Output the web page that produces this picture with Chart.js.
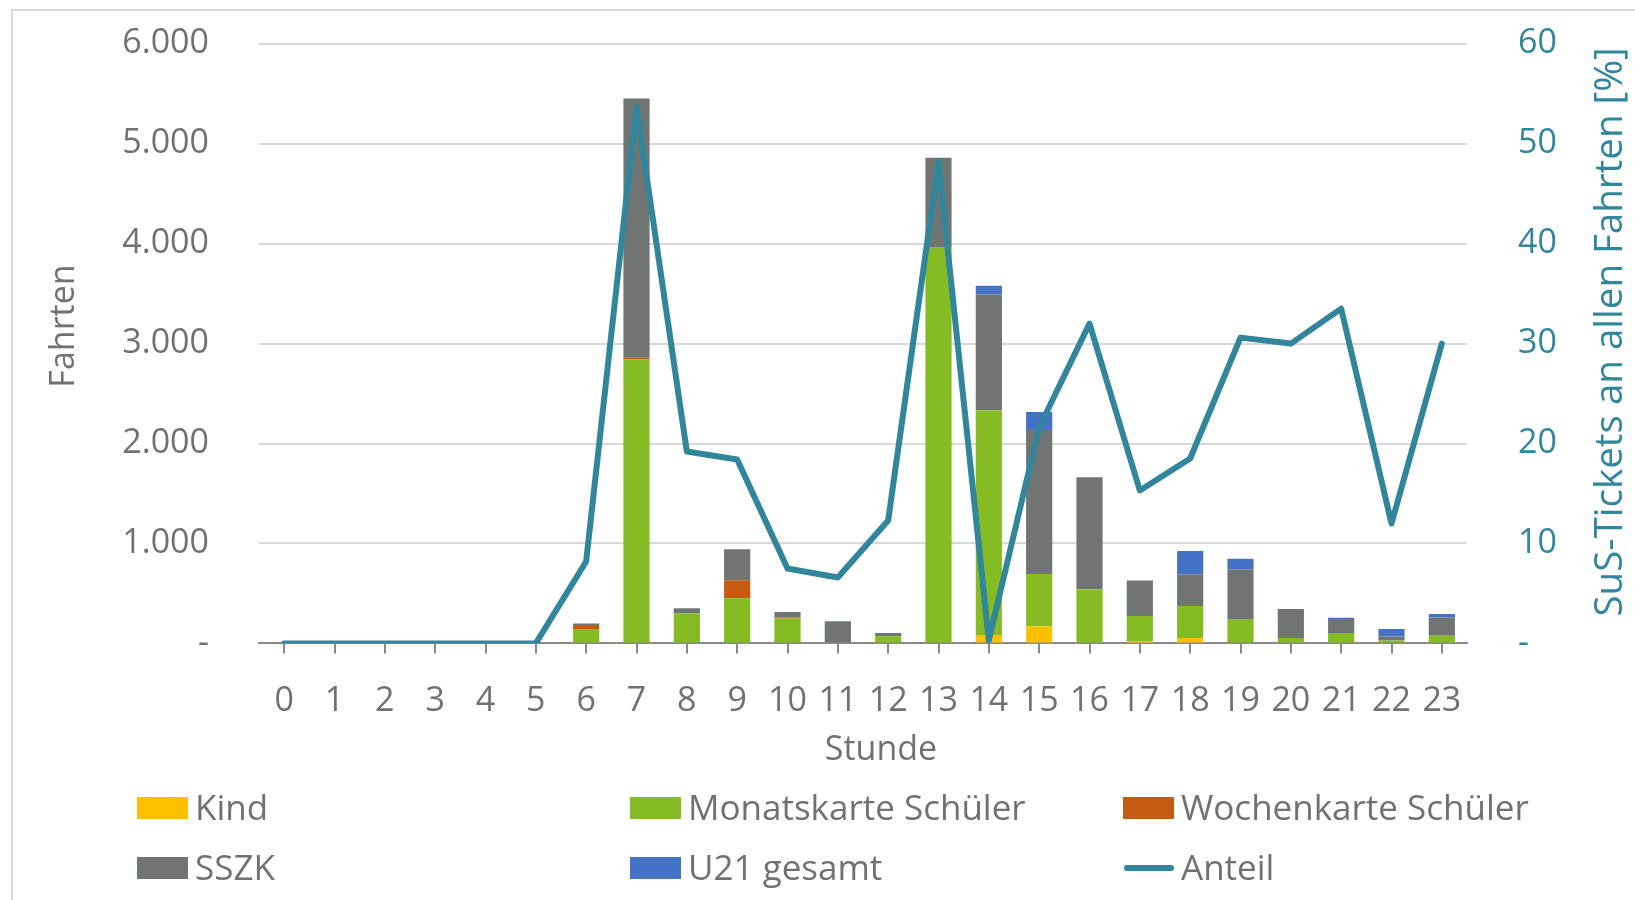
<!DOCTYPE html>
<html lang="de">
<head>
<meta charset="utf-8">
<title>Fahrten je Stunde</title>
<script src="https://cdn.jsdelivr.net/npm/chart.js@4/dist/chart.umd.min.js"></script>
<style>
    html, body { margin: 0; padding: 0; background: #fff; overflow: hidden; }
    #wrap { position: relative; width: 1635px; height: 900px; overflow: hidden; }
    #frame {
        position: absolute; left: 11px; top: 9px; width: 1700px; height: 1000px;
        border: 2px solid #d9d9d9; box-sizing: border-box;
    }
    #chart { position: absolute; left: 0; top: 0; }
    #legend { position: absolute; left: 0; top: 0; width: 1635px; height: 900px; pointer-events: none; }
    .item {
        position: absolute; height: 40px; line-height: 40px;
        font-family: 'Open Sans', sans-serif; font-size: 35px; color: #6e7271;
        white-space: nowrap;
    }
    .box { position: absolute; left: 0; top: 9px; width: 51px; height: 22px; }
    .seg { position: absolute; left: 1px; top: 17px; width: 50px; height: 6px; border-radius: 3px; }
    .txt { position: absolute; left: 58px; top: -1px; }
</style>
</head>
<body>
<div id="wrap">
    <div id="frame"></div>
    <canvas id="chart" width="1635" height="900"></canvas>
    <div id="legend"></div>
</div>
<script>
    // Stunden (x-Achse)
    const hours = ['0', '1', '2', '3', '4', '5', '6', '7', '8', '9', '10', '11',
        '12', '13', '14', '15', '16', '17', '18', '19', '20', '21', '22', '23'];

    // Fahrten je Ticketart (gestapelt)
    const kind = [0, 0, 0, 0, 0, 0, 0, 0, 0, 0, 0, 0, 0, 0, 84, 172, 0, 18, 55, 0, 0, 0, 0, 0];
    const monatskarte = [0, 0, 0, 0, 0, 0, 145, 2840, 300, 452, 248, 0, 72, 3966, 2249, 522, 542, 255, 320, 243, 53, 103, 30, 77];
    const wochenkarte = [0, 0, 0, 0, 0, 0, 40, 18, 0, 181, 11, 0, 0, 0, 0, 0, 0, 0, 0, 0, 0, 0, 0, 0];
    const sszk = [0, 0, 0, 0, 0, 0, 15, 2594, 52, 308, 56, 222, 33, 893, 1159, 1441, 1121, 357, 317, 500, 290, 140, 40, 183];
    const u21 = [0, 0, 0, 0, 0, 0, 0, 0, 0, 0, 0, 0, 0, 0, 87, 181, 0, 0, 233, 104, 0, 14, 73, 33];

    // Anteil SuS-Tickets an allen Fahrten [%]
    const anteil = [0, 0, 0, 0, 0, 0, 8.2, 53.7, 19.2, 18.4, 7.5, 6.6, 12.3, 48.2, 0.3, 21.6, 32, 15.3, 18.5, 30.6, 30, 33.5, 12, 30];

    // Achsenbeschriftung
    const yTicks = [0, 1000, 2000, 3000, 4000, 5000, 6000];
    const y1Ticks = [0, 10, 20, 30, 40, 50, 60];

    const FONT = "'Open Sans', sans-serif";
    const TEXT = '#6e7271';
    const TEAL = '#31869b';

    const colors = {
        kind: '#ffc000',
        monat: '#86bc23',
        woche: '#c55a11',
        sszk: '#707574',
        u21: '#4472c4'
    };

    function deNumber(v) {
        if (v === 0) return '-';
        return v.toLocaleString('de-DE');
    }

    // Draws the axis titles at fixed positions (right title reads bottom-up)
    const axisTitles = {
        id: 'axisTitles',
        afterDraw(chart) {
            const ctx = chart.ctx;
            ctx.save();
            ctx.font = '34px ' + FONT;
            ctx.textAlign = 'center';
            ctx.textBaseline = 'middle';

            ctx.fillStyle = TEXT;
            ctx.fillText('Stunde', 881, 750);

            ctx.save();
            ctx.translate(64, 326);
            ctx.rotate(-Math.PI / 2);
            ctx.fillText('Fahrten', 0, 0);
            ctx.restore();

            ctx.save();
            ctx.font = '38.5px ' + FONT;
            ctx.fillStyle = TEAL;
            ctx.translate(1611, 332);
            ctx.rotate(-Math.PI / 2);
            ctx.fillText('SuS-Tickets an allen Fahrten [%]', 0, 0);
            ctx.restore();

            ctx.restore();
        }
    };

    // keep the plot area exactly where the layout padding puts it
    function noLabelPadding(scale) {
        scale.paddingTop = 0;
        scale.paddingBottom = 0;
    }

    const barCommon = {
        type: 'bar',
        stack: 'fahrten',
        yAxisID: 'y',
        order: 1,
        borderWidth: 0,
        categoryPercentage: 1,
        barPercentage: 0.52
    };

    const chart = new Chart(document.getElementById('chart'), {
        data: {
            labels: hours,
            datasets: [
                Object.assign({ label: 'Kind', data: kind, backgroundColor: colors.kind }, barCommon),
                Object.assign({ label: 'Monatskarte Schüler', data: monatskarte, backgroundColor: colors.monat }, barCommon),
                Object.assign({ label: 'Wochenkarte Schüler', data: wochenkarte, backgroundColor: colors.woche }, barCommon),
                Object.assign({ label: 'SSZK', data: sszk, backgroundColor: colors.sszk }, barCommon),
                Object.assign({ label: 'U21 gesamt', data: u21, backgroundColor: colors.u21 }, barCommon),
                {
                    type: 'line',
                    label: 'Anteil',
                    data: anteil,
                    yAxisID: 'y1',
                    order: 0,
                    borderColor: TEAL,
                    backgroundColor: TEAL,
                    borderWidth: 6,
                    borderCapStyle: 'round',
                    borderJoinStyle: 'round',
                    tension: 0,
                    pointRadius: 0,
                    pointHoverRadius: 0,
                    fill: false
                }
            ]
        },
        options: {
            responsive: false,
            animation: false,
            layout: {
                padding: { top: 43.8, left: 0, right: 0, bottom: 0 }
            },
            plugins: {
                legend: { display: false },
                tooltip: { enabled: false }
            },
            scales: {
                x: {
                    stacked: true,
                    offset: true,
                    afterFit: function(scale) { scale.height = 900 - 643.4; },
                    border: { display: true, color: '#8a8a8a', width: 2 },
                    grid: {
                        offset: false,
                        drawOnChartArea: false,
                        drawTicks: true,
                        tickLength: 10,
                        color: '#8a8a8a',
                        lineWidth: 2
                    },
                    ticks: {
                        color: TEXT,
                        padding: 28,
                        maxRotation: 0,
                        autoSkip: false,
                        font: { family: FONT, size: 34 }
                    }
                },
                y: {
                    stacked: true,
                    position: 'left',
                    min: 0,
                    max: 6000,
                    afterFit: function(scale) {
                        scale.width = 259;
                        noLabelPadding(scale);
                    },
                    afterBuildTicks: function(scale) {
                        scale.ticks = yTicks.map(v => ({ value: v }));
                    },
                    border: { display: false },
                    grid: {
                        color: function(c) { return c.tick && c.tick.value === 0 ? 'rgba(0,0,0,0)' : '#d9d9d9'; },
                        lineWidth: 2,
                        drawTicks: false
                    },
                    ticks: {
                        color: TEXT,
                        padding: 50,
                        font: { family: FONT, size: 34 },
                        callback: function(v) { return deNumber(v); }
                    }
                },
                y1: {
                    position: 'right',
                    min: 0,
                    max: 60,
                    afterFit: function(scale) {
                        scale.width = 1635 - 1467;
                        noLabelPadding(scale);
                    },
                    afterBuildTicks: function(scale) {
                        scale.ticks = y1Ticks.map(v => ({ value: v }));
                    },
                    border: { display: false },
                    grid: { display: false, drawTicks: false },
                    ticks: {
                        color: TEAL,
                        padding: 51,
                        font: { family: FONT, size: 34 },
                        callback: function(v) { return v === 0 ? '-' : String(v); }
                    }
                }
            }
        },
        plugins: [axisTitles]
    });

    // HTML legend in Excel-like columns
    const legendSlots = [
        { x: 137, y: 788 }, { x: 630, y: 788 }, { x: 1123, y: 788 },
        { x: 137, y: 848 }, { x: 630, y: 848 }, { x: 1123, y: 848 }
    ];
    const legendEl = document.getElementById('legend');
    chart.data.datasets.forEach(function(ds, i) {
        const slot = legendSlots[i];
        const item = document.createElement('div');
        item.className = 'item';
        item.style.left = slot.x + 'px';
        item.style.top = slot.y + 'px';
        const mark = document.createElement('span');
        mark.className = ds.type === 'line' ? 'seg' : 'box';
        mark.style.background = ds.type === 'line' ? ds.borderColor : ds.backgroundColor;
        const txt = document.createElement('span');
        txt.className = 'txt';
        txt.textContent = ds.label;
        item.appendChild(mark);
        item.appendChild(txt);
        legendEl.appendChild(item);
    });
</script>
</body>
</html>
